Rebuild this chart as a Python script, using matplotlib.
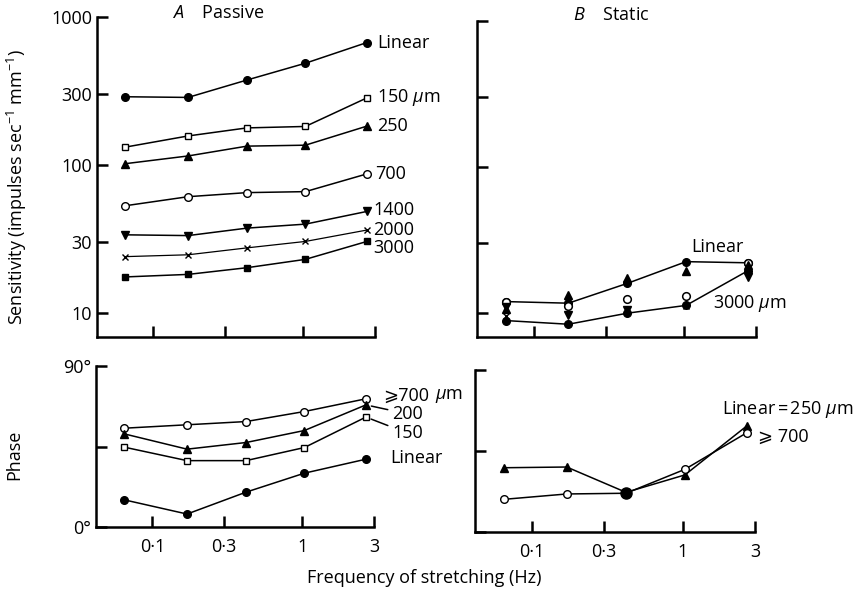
import numpy as np
import matplotlib
matplotlib.use("Agg")
import matplotlib.pyplot as plt

plt.rcParams['font.family'] = ['Open Sans', 'DejaVu Sans']
plt.rcParams['mathtext.fontset'] = 'custom'
plt.rcParams['mathtext.rm'] = 'Open Sans'
plt.rcParams['mathtext.it'] = 'Open Sans:italic'
plt.rcParams['font.size'] = 13

# stretch frequencies (Hz)
freq = [0.065, 0.17, 0.42, 1.03, 2.65]

# A passive: sensitivity (impulses/s/mm) for each stretch amplitude
sens_linear = [289, 286, 375, 487, 672]
sens_150 = [132, 157, 178, 182, 284]
sens_250 = [102, 115, 134, 136, 183]
sens_700 = [53, 61, 65, 66, 87]
sens_1400 = [33.7, 33.3, 37.4, 39.8, 48.5]
sens_2000 = [24, 24.7, 27.5, 30.4, 36.3]
sens_3000 = [17.5, 18.2, 20.2, 23, 30.4]

# B static: sensitivity
static_linear = [12.0, 11.7, 16.0, 22.5, 22.1]
static_3000 = [8.9, 8.4, 10.0, 11.3, 19.5]
static_open = [11.9, 11.2, 12.5, 13.1, 22.2]
static_up = [10.6, 13.3, 17.3, 19.3, 21.3]
static_down = [11.0, 9.7, 10.5, np.nan, 17.6]
static_x = [9.5, np.nan, np.nan, 11.2, 19.7]

# A passive: phase (deg)
phase_700 = [55.3, 57.2, 59, 64.6, 71.7]
phase_200 = [52.1, 43.6, 47.3, 54, 68.3]
phase_150 = [44.7, 37.2, 37.2, 44.5, 61.5]
phase_linear = [15.3, 7.4, 19.6, 30.2, 38]

# B static: phase (deg)
phase_b_250 = [35.6, 36, 21.9, 31.6, 58.9]
phase_b_700 = [18, 21, 21.4, 34.7, 55.1]

xticks = [0.1, 0.3, 1, 3]
xticklabels = ['0·1', '0·3', '1', '3']
sens_ticks = [10, 30, 100, 300, 1000]
phase_ticks = [0, 45, 90]

W, H = 866, 593
fig = plt.figure(figsize=(W / 100, H / 100), dpi=100)


def box(x0, y0, x1, y1):
    # pixel box -> figure fraction
    return [x0 / W, 1 - y1 / H, (x1 - x0) / W, (y1 - y0) / H]


axA = fig.add_axes(box(97, 17, 375, 337))
axB = fig.add_axes(box(477, 20.7, 756, 337))
axC = fig.add_axes(box(96, 366, 374, 527.3))
axD = fig.add_axes(box(475, 370, 755, 531.7))

line_kw = dict(color='black', lw=1.1, ms=5.5, mec='black')

for ax in (axA, axB, axC, axD):
    for s in ('top', 'right'):
        ax.spines[s].set_visible(False)
    for s in ('left', 'bottom'):
        ax.spines[s].set_linewidth(1.8)
    ax.set_xscale('log')
    ax.set_xlim(0.042, 3)
    ax.set_xticks(xticks)
    ax.minorticks_off()
    ax.tick_params(direction='in', length=8, width=1.8, colors='black')

for ax in (axA, axB):
    ax.set_yscale('log')
    ax.set_ylim(10 ** (1 - 24 / 147.2), 1000)
    ax.set_yticks(sens_ticks)
    ax.minorticks_off()
    ax.set_xticklabels([])
axA.set_yticklabels([str(t) for t in sens_ticks])
axB.set_yticklabels([])

for ax in (axC, axD):
    ax.set_ylim(0, 90)
    ax.set_yticks(phase_ticks)
    ax.set_xticklabels(xticklabels)
    ax.tick_params(axis='x', pad=8)
axC.set_yticklabels(['0°', '', '90°'])
axD.set_yticklabels([])

# ---- A passive sensitivity
axA.plot(freq, sens_linear, 'o-', mfc='black', **line_kw)
axA.plot(freq, sens_150, 's-', mfc='white', ms=5, color='black', lw=1.1, mec='black')
axA.plot(freq, sens_250, '^-', mfc='black', **line_kw)
axA.plot(freq, sens_700, 'o-', mfc='white', **line_kw)
axA.plot(freq, sens_1400, 'v-', mfc='black', **line_kw)
axA.plot(freq, sens_2000, 'x-', color='black', lw=0.9, ms=4, mew=1.0)
axA.plot(freq, sens_3000, 's-', mfc='black', ms=4.5, color='black', lw=1.1, mec='black')

labA = [(sens_linear, 'Linear', 10, 0), (sens_150, r'150 $\mu$m', 10, 0),
        (sens_250, '250', 10, 0), (sens_700, '700', 8, 0),
        (sens_1400, '1400', 6, 1), (sens_2000, '2000', 6, 0),
        (sens_3000, '3000', 6, -7)]
for vals, txt, dx, dy in labA:
    axA.annotate(txt, (freq[-1], vals[-1]), xytext=(dx, dy),
                 textcoords='offset pixels', va='center', ha='left')

# ---- B static sensitivity
axB.plot(freq, static_linear, 'o-', mfc='black', **line_kw)
axB.plot(freq, static_3000, 'o-', mfc='black', **line_kw)
axB.plot(freq, static_open, 'o', mfc='white', ms=5.5, mec='black', mew=1.1)
axB.plot(freq, static_up, '^', color='black', ms=5.5)
axB.plot(freq, static_down, 'v', color='black', ms=5.5)
axB.plot(freq, static_x, 'x', color='black', ms=4, mew=1.0)
axB.annotate('Linear', (freq[3], static_linear[3]), xytext=(5, 15),
             textcoords='offset pixels', va='center', ha='left')
axB.annotate(r'3000 $\mu$m', (freq[3], static_3000[3]), xytext=(27, 2),
             textcoords='offset pixels', va='center', ha='left')

# ---- A passive phase
axC.plot(freq, phase_700, 'o-', mfc='white', **line_kw)
axC.plot(freq, phase_200, '^-', mfc='black', **line_kw)
axC.plot(freq, phase_150, 's-', mfc='white', ms=5, color='black', lw=1.1, mec='black')
axC.plot(freq, phase_linear, 'o-', mfc='black', **line_kw)
axC.annotate('⩾700', (freq[-1], phase_700[-1]), xytext=(17, 3),
             textcoords='offset pixels', va='center', ha='left')
axC.annotate(r'$\mu$m', (freq[-1], phase_700[-1]), xytext=(69, 3),
             textcoords='offset pixels', va='center', ha='left')
axC.annotate('200', (freq[-1], phase_200[-1]), xytext=(26, -9),
             textcoords='offset pixels', va='center', ha='left',
             arrowprops=dict(arrowstyle='-', lw=1.1, color='black',
                             shrinkA=1, shrinkB=4))
axC.annotate('150', (freq[-1], phase_150[-1]), xytext=(26, -16),
             textcoords='offset pixels', va='center', ha='left',
             arrowprops=dict(arrowstyle='-', lw=1.1, color='black',
                             shrinkA=1, shrinkB=4))
axC.annotate('Linear', (freq[-1], phase_linear[-1]), xytext=(24, 1),
             textcoords='offset pixels', va='center', ha='left')

# ---- B static phase
axD.plot(freq, phase_b_250, '^-', mfc='black', **line_kw)
axD.plot(freq, phase_b_700, 'o-', mfc='white', **line_kw)
axD.plot(freq[2], phase_b_700[2], 'o', color='black', ms=8)
axD.annotate(r'Linear$\,$=$\,$250 $\mu$m', (freq[-1], phase_b_250[-1]),
             xytext=(-25, 16), textcoords='offset pixels', va='center', ha='left')
axD.annotate('⩾ 700', (freq[-1], phase_b_700[-1]), xytext=(11, -4),
             textcoords='offset pixels', va='center', ha='left')

# axis labels and panel titles
axA.set_ylabel(r'Sensitivity (impulses sec$^{-1}$ mm$^{-1}$)')
axA.yaxis.set_label_coords(-0.245, 0.47)
axC.set_ylabel('Phase')
axC.yaxis.set_label_coords(-0.26, 0.45)
fig.text(424 / W, 1 - 578 / H, 'Frequency of stretching (Hz)', ha='center', va='center')
fig.text(172 / W, 1 - 13 / H, r'$\mathit{A}$    Passive', ha='left', va='center')
fig.text(573 / W, 1 - 15 / H, r'$\mathit{B}$    Static', ha='left', va='center')

fig.savefig('out.png', dpi=100, facecolor='white')
